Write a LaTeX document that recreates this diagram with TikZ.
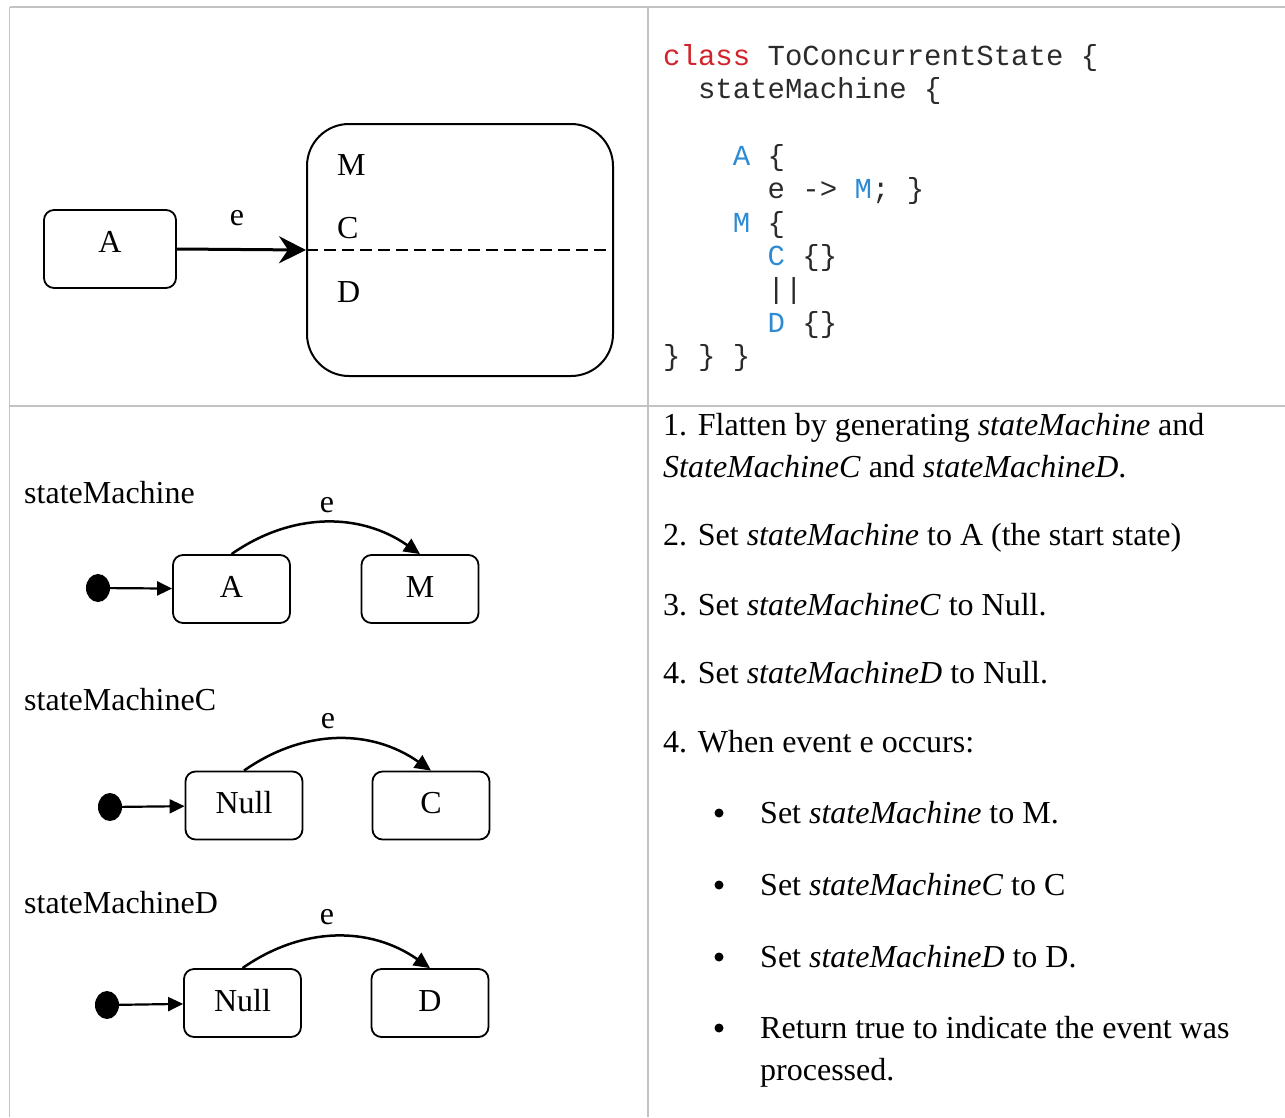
\documentclass[tikz,border=0pt]{standalone}
\usepackage{fontspec}
\setmainfont{Liberation Serif}
\setmonofont{Liberation Mono}
\usetikzlibrary{arrows.meta,calc,shapes.geometric}

\definecolor{gridgray}{HTML}{C3C3C3}
\definecolor{kwred}{HTML}{D2232A}
\definecolor{idblue}{HTML}{2E8BD3}
\definecolor{codeink}{HTML}{2B2B2B}

\begin{document}
\begin{tikzpicture}
    [x = 1pt, y = -1pt,
     every node/.style = {inner sep = 0pt, font = \fontsize{32}{40}\selectfont},
     state/.style = {draw, line width = 1.8pt, rounded corners = 10pt,
                     minimum width = 117pt, minimum height = 68pt,
                     text height = 21pt, text depth = 5pt},
     startdot/.style = {ellipse, fill, minimum width = 24pt, minimum height = 28pt},
     bulletdot/.style = {circle, fill, minimum size = 9pt},
     txt/.style = {anchor = base west},
     codeline/.style = {anchor = base west, text = codeink,
                        font = \fontsize{29}{33}\selectfont\ttfamily},
     grid/.style = {draw = gridgray, line width = 1.5pt},
     initarrow/.style = {line width = 2.2pt, -{Triangle[length = 15pt, width = 14pt]}},
     trans/.style = {line width = 2.5pt, -{Triangle[length = 16pt, width = 15pt]}}]
    \useasboundingbox (0,0) rectangle (1285,1117);

    % table rules
    \draw[grid] (9.5,7) -- (1285,7);
    \draw[grid] (9.5,7) -- (9.5,1117);
    \draw[grid] (648,7) -- (648,1117);
    \draw[grid] (9.5,406) -- (1285,406);

    % concurrent state
    \node[draw, line width = 1.8pt, rounded corners = 10pt, minimum width = 132pt,
          minimum height = 78pt, text height = 21pt, text depth = 14pt] (A) at (110,249) {A};
    \node[draw, line width = 2pt, rounded corners = 42pt, minimum width = 306pt,
          minimum height = 252pt] (M) at (460,250) {};
    \node[txt] (lblM) at (337,175) {M};
    \node[txt] (lblC) at (337,238) {C};
    \node[txt] (lblD) at (337,302) {D};
    \node[anchor = base] (lblE) at (237,225) {e};
    \draw[line width = 1.8pt, dash pattern = on 12pt off 6pt] (M.west) -- (M.east);
    \draw[line width = 3pt, -{Stealth[length = 27pt, width = 27pt, inset = 9pt]}] (A.east) -- (M.west);

    % code
    \node[codeline] (c1) at (663,65) {\textcolor{kwred}{class} ToConcurrentState \{};
    \node[codeline] (c2) at (697.8,98.5) {stateMachine \{};
    \node[codeline] (c3) at (732.6,165) {\textcolor{idblue}{A} \{};
    \node[codeline] (c4) at (767.4,198) {e -> \textcolor{idblue}{M}; \}};
    \node[codeline] (c5) at (732.6,232) {\textcolor{idblue}{M} \{};
    \node[codeline] (c6) at (767.4,265) {\textcolor{idblue}{C} \{\}};
    \node[codeline] (c7) at (767.4,298) {||};
    \node[codeline] (c8) at (767.4,332) {\textcolor{idblue}{D} \{\}};
    \node[codeline] (c9) at (663,365) {\} \} \}};

    % flattened machines
    \node[txt] (sm) at (24,503) {stateMachine};
    \node[startdot] (i1) at (98,588) {};
    \node[state] (A1) at (231.5,589) {A};
    \node[state] (M1) at (420,589) {M};
    \node[anchor = base] (e1) at (327,512) {e};

    \node[txt] (smC) at (24,710) {stateMachineC};
    \node[startdot] (i2) at (110,807) {};
    \node[state] (N2) at (244,805.5) {Null};
    \node[state] (C2) at (431,805.5) {C};
    \node[anchor = base] (e2) at (328,728) {e};

    \node[txt] (smD) at (24,913) {stateMachineD};
    \node[startdot] (i3) at (107,1005) {};
    \node[state] (N3) at (242.5,1003) {Null};
    \node[state] (D3) at (430,1003) {D};
    \node[anchor = base] (e3) at (327,924) {e};

    \foreach \dotnode/\from/\to in {i1/A1/M1, i2/N2/C2, i3/N3/D3} {
      \draw[initarrow] (\dotnode) -- (\from);
      \draw[trans] (\from.north) .. controls ($(\from.north)+(60,-42)$)
                   and ($(\to.north)+(-60,-42)$) .. (\to.north);
    }

    % steps
    \node[txt] (t1) at (663,435) {1. Flatten by generating \textit{stateMachine} and};
    \node[txt] (t2) at (663,477) {\textit{StateMachineC} and \textit{stateMachineD}.};
    \node[txt] (t3) at (663,545) {2. Set \textit{stateMachine} to A (the start state)};
    \node[txt] (t4) at (663,615) {3. Set \textit{stateMachineC} to Null.};
    \node[txt] (t5) at (663,683) {4. Set \textit{stateMachineD} to Null.};
    \node[txt] (t6) at (663,752) {4. When event e occurs:};
    \foreach \y [count = \i] in {813,885,957,1028}
      \node[bulletdot] (b\i) at (719,\y) {};
    \node[txt] (s1) at (760,823) {Set \textit{stateMachine} to M.};
    \node[txt] (s2) at (760,895) {Set \textit{stateMachineC} to C};
    \node[txt] (s3) at (760,967) {Set \textit{stateMachineD} to D.};
    \node[txt] (s4) at (760,1038) {Return true to indicate the event was};
    \node[txt] (s5) at (760,1080) {processed.};
  \end{tikzpicture}
\end{document}
